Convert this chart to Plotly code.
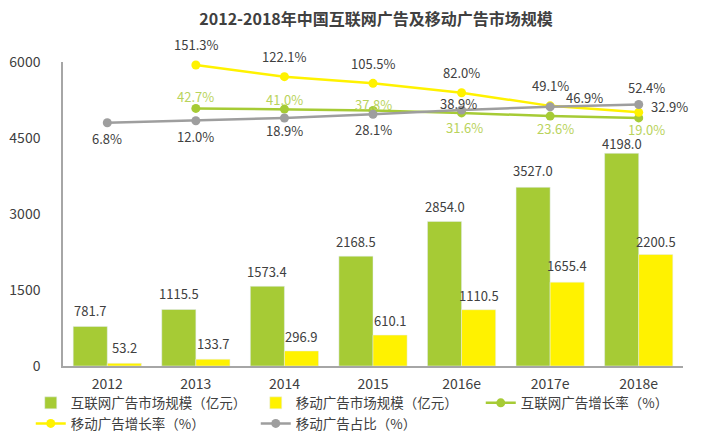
import plotly.graph_objects as go

categories = ["2012", "2013", "2014", "2015", "2016e", "2017e", "2018e"]
internet_ad = [781.7, 1115.5, 1573.4, 2168.5, 2854.0, 3527.0, 4198.0]
mobile_ad = [53.2, 133.7, 296.9, 610.1, 1110.5, 1655.4, 2200.5]
internet_growth = [None, 42.7, 41.0, 37.8, 31.6, 23.6, 19.0]
mobile_growth = [None, 151.3, 122.1, 105.5, 82.0, 49.1, 32.9]
mobile_share = [6.8, 12.0, 18.9, 28.1, 38.9, 46.9, 52.4]
y_ticks = [0, 1500, 3000, 4500, 6000]

GREEN = "#A6CB35"
YELLOW = "#FFF200"
GRAY = "#9E9E9E"
TEXT = "#404040"
GREEN_TXT = "#B9D35C"
FONT = "Noto Sans CJK SC"

fig = go.Figure()
fig.add_trace(go.Bar(
    x=categories, y=internet_ad, name="互联网广告市场规模（亿元）",
    marker_color=GREEN))
fig.add_trace(go.Bar(
    x=categories, y=mobile_ad, name="移动广告市场规模（亿元）",
    marker_color=YELLOW))
fig.add_trace(go.Scatter(
    x=categories, y=internet_growth, name="互联网广告增长率（%）", yaxis="y2",
    mode="lines+markers", line=dict(color=GREEN, width=2.5),
    marker=dict(color=GREEN, size=9), cliponaxis=False))
fig.add_trace(go.Scatter(
    x=categories, y=mobile_growth, name="移动广告增长率（%）", yaxis="y2",
    mode="lines+markers", line=dict(color=YELLOW, width=2.5),
    marker=dict(color=YELLOW, size=9), cliponaxis=False))
fig.add_trace(go.Scatter(
    x=categories, y=mobile_share, name="移动广告占比（%）", yaxis="y2",
    mode="lines+markers", line=dict(color=GRAY, width=2.5),
    marker=dict(color=GRAY, size=9), cliponaxis=False))

# label offsets (style): (xshift, yshift)
ig_off = [None, (0, 12), (0, 10), (0, 6), (3, -15), (5, -12), (8, -12)]
mg_off = [None, (0, 20), (0, 20), (0, 20), (0, 20), (0, 20), (31, 6)]
ms_off = [(0, -16), (0, -16), (0, -13), (0, -15), (-3, 6), (34, 9), (8, 17)]
ia_off = [(-17, 4), (-17, 4), (-17, 3), (-17, 3), (-17, 3), (-17, 5), (-17, -2)]
ma_off = [(17, 4), (17, 4), (17, 3), (17, 3), (17, 3), (17, 5), (17, 2)]

annotations = []
for vals, offs, col in [(internet_ad, ia_off, TEXT), (mobile_ad, ma_off, TEXT)]:
    for i, (v, o) in enumerate(zip(vals, offs)):
        annotations.append(dict(
            x=i, y=v, xref="x", yref="y", text=f"{v:.1f}", showarrow=False,
            yanchor="bottom", xshift=o[0], yshift=o[1],
            font=dict(color=col, size=13, family=FONT)))
for vals, offs, col in [(internet_growth, ig_off, GREEN_TXT),
                        (mobile_growth, mg_off, TEXT),
                        (mobile_share, ms_off, TEXT)]:
    for i, (v, o) in enumerate(zip(vals, offs)):
        if v is None:
            continue
        annotations.append(dict(
            x=i, y=v, xref="x", yref="y2", text=f"{v:.1f}%", showarrow=False,
            xshift=o[0], yshift=o[1], font=dict(color=col, size=13, family=FONT)))

fig.update_layout(
    width=726, height=435,
    margin=dict(l=63, r=43, t=62, b=69, autoexpand=False),
    paper_bgcolor="white", plot_bgcolor="white",
    font=dict(family=FONT, color=TEXT, size=13),
    title=dict(text="<b>2012-2018年中国互联网广告及移动广告市场规模</b>",
               x=0.518, xanchor="center", y=0.955, yanchor="middle",
               font=dict(size=16, color=TEXT, family=FONT)),
    barmode="group", bargap=0.23, bargroupgap=0,
    xaxis=dict(type="category", range=[-0.5, 6.5], showline=True,
               linecolor="#A6A6A6", linewidth=1.5,
               ticks="outside", ticklen=4, tickcolor="rgba(0,0,0,0)",
               showgrid=False, tickfont=dict(size=14, color=TEXT)),
    yaxis=dict(range=[0, 6000], tickvals=y_ticks, showline=True,
               linecolor="#A6A6A6", linewidth=1.5, showgrid=False, zeroline=False,
               ticks="outside", ticklen=18, tickcolor="rgba(0,0,0,0)",
               tickfont=dict(size=14, color=TEXT)),
    yaxis2=dict(range=[-601, 158.75], overlaying="y", visible=False),
    showlegend=True,
    legend=dict(orientation="h", x=-0.052, xanchor="left", y=-0.071, yanchor="top",
                entrywidth=180, font=dict(size=13.5, color=TEXT),
                tracegroupgap=0, itemwidth=30, bgcolor="rgba(0,0,0,0)"),
    annotations=annotations,
)

fig.write_html("out.html", config={"displayModeBar": False},
               post_script="document.body.style.margin='0';")
